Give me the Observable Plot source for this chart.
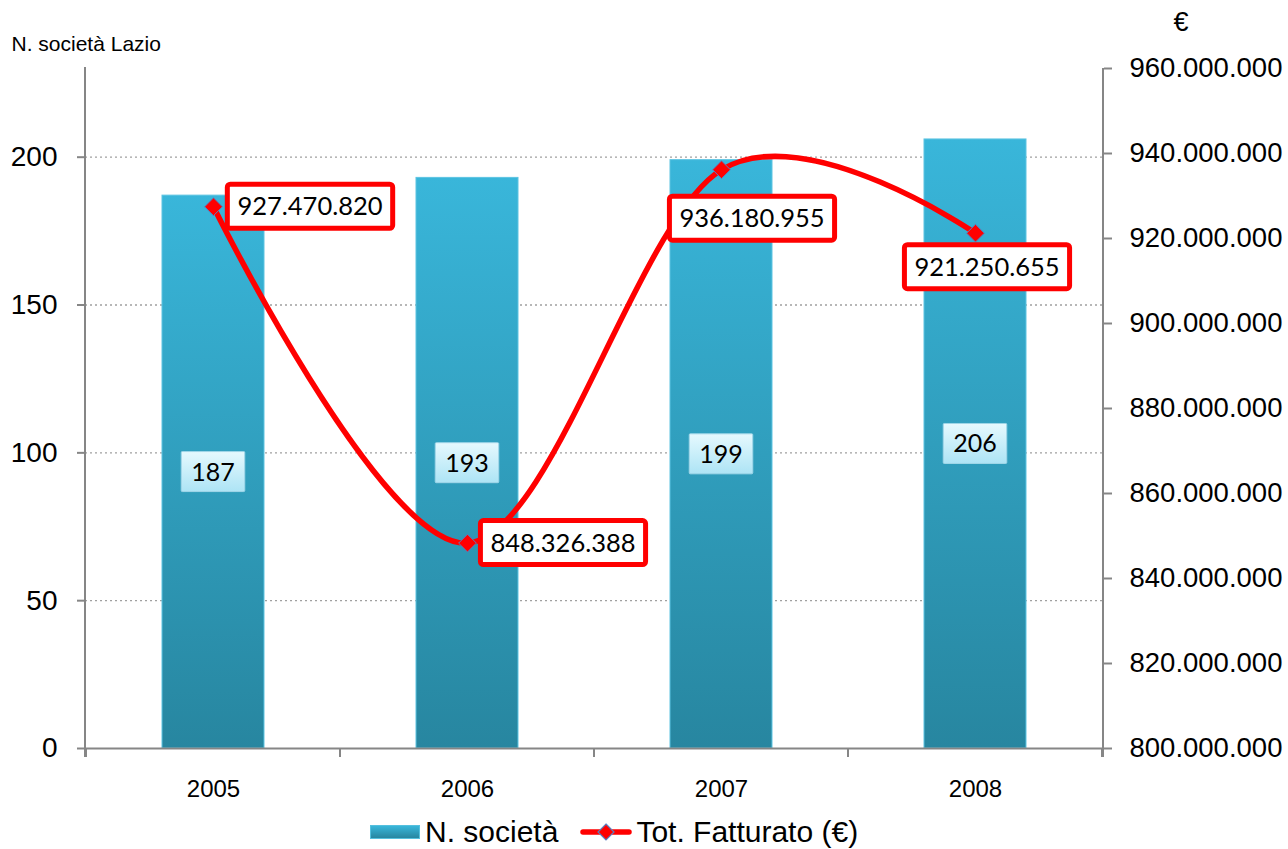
<!DOCTYPE html>
<html>
<head>
<meta charset="utf-8">
<script src="https://cdn.jsdelivr.net/npm/d3@7"></script>
<script src="https://cdn.jsdelivr.net/npm/@observablehq/plot@0.6"></script>
<style>
  html, body { margin: 0; padding: 0; background: #fff; }
  #wrap { width: 1288px; height: 849px; overflow: hidden; position: relative; font-family: "Liberation Sans", Arial, sans-serif; }
  #legend { height: 34px; display: flex; align-items: center; padding-left: 370px; font-size: 30px; color: #000; white-space: nowrap; }
  #legend .sw-bar { display: inline-block; width: 50px; height: 14px; background: linear-gradient(#39b6da, #2886a0); border: 1px solid #55c0de; box-sizing: border-box; margin-right: 5px; }
  #legend svg { margin-left: 22px; margin-right: 4px; }
</style>
</head>
<body>
<div id="wrap"></div>
<script>
// ---- data ----
const years = ["2005", "2006", "2007", "2008"];
const nSocieta = [187, 193, 199, 206];
const fatturato = [927470820, 848326388, 936180955, 921250655];
const leftTicks = [0, 50, 100, 150, 200];
const gridTicks = [50, 100, 150, 200];
const rightTicks = [800000000, 820000000, 840000000, 860000000, 880000000, 900000000, 920000000, 940000000, 960000000];
const leftDomain = [0, 230];
const rightDomain = [800000000, 960000000];
const seriesNames = ["N. società", "Tot. Fatturato (€)"];
const leftTitle = "N. società Lazio";
const rightTitle = "€";

const data = years.map((y, i) => ({year: y, n: nSocieta[i], f: fatturato[i]}));

const itLocale = d3.formatLocale({decimal: ",", thousands: ".", grouping: [3], currency: ["", "€"]});
const fmt = itLocale.format(",.0f");
// map the right-hand (€) axis into the left-hand scale units
const toLeft = d3.scaleLinear().domain(rightDomain).range(leftDomain);

const labelFont = "Lato, 'Open Sans', sans-serif";

// offsets of the boxed € labels from their points (pixels)
const fLabelOffsets = [[97, 0], [96, 0], [31, 49], [12, 34]];

function defsMark() {
  const g = d3.create("svg:g");
  const defs = g.append("defs");
  const bg = defs.append("linearGradient").attr("id", "barGrad").attr("x1", 0).attr("y1", 0).attr("x2", 0).attr("y2", 1);
  bg.append("stop").attr("offset", "0%").attr("stop-color", "#39b6da");
  bg.append("stop").attr("offset", "100%").attr("stop-color", "#2786a0");
  const lg = defs.append("linearGradient").attr("id", "lblGrad").attr("x1", 0).attr("y1", 0).attr("x2", 0).attr("y2", 1);
  lg.append("stop").attr("offset", "0%").attr("stop-color", "#e6f9fe");
  lg.append("stop").attr("offset", "100%").attr("stop-color", "#ade4f5");
  return g.node();
}

function frameLines(index, scales, values, dims) {
  const g = d3.create("svg:g").attr("stroke", "#868686").attr("stroke-width", 2);
  const top = dims.marginTop, bottom = dims.height - dims.marginBottom;
  const L = dims.marginLeft, R = dims.width - dims.marginRight;
  g.append("line").attr("x1", L).attr("x2", L).attr("y1", top - 1).attr("y2", bottom + 9);
  g.append("line").attr("x1", R).attr("x2", R).attr("y1", top).attr("y2", bottom + 9);
  // category boundary ticks on the x axis
  const x = scales.x, step = x.step(), bw = x.bandwidth();
  const y0 = scales.y(0);
  const bounds = years.map(d => x(d) - (step - bw) / 2);
  bounds.push(bounds[bounds.length - 1] + step);
  bounds.forEach(b => g.append("line").attr("x1", b).attr("x2", b).attr("y1", y0).attr("y2", y0 + 9));
  return g.node();
}

function boxedLabels({cls, yv, text, offsets, rectH, padX, fill, stroke, strokeWidth, rx, fontSize}) {
  return (index, scales) => {
    const g = d3.create("svg:g").attr("class", "boxed " + cls);
    const half = scales.x.bandwidth() / 2;
    data.forEach((d, i) => {
      const cx = scales.x(d.year) + half + offsets[i][0];
      const cy = scales.y(yv(d)) + offsets[i][1];
      const gg = g.append("g").attr("transform", `translate(${cx},${cy})`).attr("data-padx", padX).attr("data-h", rectH);
      gg.append("rect").attr("fill", fill).attr("stroke", stroke).attr("stroke-width", strokeWidth).attr("rx", rx).attr("ry", rx)
        .attr("x", -50).attr("width", 100).attr("y", -rectH / 2).attr("height", rectH);
      gg.append("text").attr("text-anchor", "middle").attr("dy", "0.36em")
        .attr("font-family", labelFont).attr("font-size", fontSize).attr("fill", "#000").text(text(d));
    });
    return g.node();
  };
}

const chart = Plot.plot({
  width: 1288,
  height: 815,
  marginTop: 68,
  marginBottom: 67,
  marginLeft: 85,
  marginRight: 185,
  style: {fontFamily: "'Liberation Sans', Arial, sans-serif", background: "#fff", color: "#000", overflow: "visible"},
  x: {domain: years, paddingInner: 0.6, paddingOuter: 0.3, axis: null},
  y: {domain: leftDomain, axis: null},
  marks: [
    defsMark,
    Plot.ruleY(gridTicks, {stroke: "#a0a0a0", strokeWidth: 1.3, strokeDasharray: "2,3"}),
    Plot.barY(data, {x: "year", y: "n", fill: "url(#barGrad)", stroke: "#5cc4e2", strokeWidth: 1}),
    Plot.ruleY([0], {stroke: "#868686", strokeWidth: 2}),
    frameLines,
    Plot.axisY(leftTicks, {anchor: "left", tickSize: 8, tickPadding: 20, fontSize: 28, stroke: "#868686", strokeWidth: 2, label: null, tickFormat: d => String(d)}),
    Plot.axisY(rightTicks.map(v => toLeft(v)), {anchor: "right", tickSize: 8, tickPadding: 18, fontSize: 27.5, stroke: "#868686", strokeWidth: 2, label: null, tickFormat: d => fmt(Math.round(toLeft.invert(d)))}),
    Plot.axisX({tickSize: 0, tickPadding: 31, fontSize: 24, label: null}),
    boxedLabels({cls: "nlab", yv: d => d.n / 2, text: d => String(d.n), offsets: years.map(() => [0, 0]), rectH: 40, padX: 10, fill: "url(#lblGrad)", stroke: "#9fd6e8", strokeWidth: 1, rx: 1, fontSize: 25}),
    Plot.line(data, {x: "year", y: d => toLeft(d.f), stroke: "#ff0000", strokeWidth: 5.5, curve: "cardinal", strokeLinecap: "round"}),
    Plot.dot(data, {x: "year", y: d => toLeft(d.f), symbol: "diamond2", r: 8, fill: "#ff0000", stroke: "#5b7fc0", strokeWidth: 1}),
    boxedLabels({cls: "flab", yv: d => toLeft(d.f), text: d => fmt(d.f), offsets: fLabelOffsets, rectH: 44, padX: 10, fill: "#fff", stroke: "#ff0000", strokeWidth: 5, rx: 3, fontSize: 25.5}),
    Plot.text([leftTitle], {text: d => d, frameAnchor: "top-left", dx: -74, dy: -24, textAnchor: "start", lineAnchor: "middle", fontSize: 21, fill: "#000"}),
    Plot.text([rightTitle], {text: d => d, frameAnchor: "top-right", dx: 85, dy: -46, lineAnchor: "middle", fontSize: 27, fill: "#000"})
  ]
});

const wrap = document.getElementById("wrap");
wrap.append(chart);

// legend (HTML below the SVG)
const legend = document.createElement("div");
legend.id = "legend";
legend.innerHTML = `<span class="sw-bar"></span><span>${seriesNames[0]}</span>` +
  `<svg width="52" height="22" viewBox="0 0 52 22"><line x1="3" x2="49" y1="11" y2="11" stroke="#ff0000" stroke-width="5.5" stroke-linecap="round"/>` +
  `<path d="M26 3 L34 11 L26 19 L18 11 Z" fill="#ff0000" stroke="#5b7fc0" stroke-width="1.2"/></svg><span>${seriesNames[1]}</span>`;
wrap.append(legend);

// size the label boxes to their text
document.querySelectorAll("g.boxed > g").forEach(gg => {
  const t = gg.querySelector("text");
  const r = gg.querySelector("rect");
  const w = t.getBBox().width + 2 * (+gg.dataset.padx);
  r.setAttribute("x", -w / 2);
  r.setAttribute("width", w);
});
</script>
</body>
</html>
